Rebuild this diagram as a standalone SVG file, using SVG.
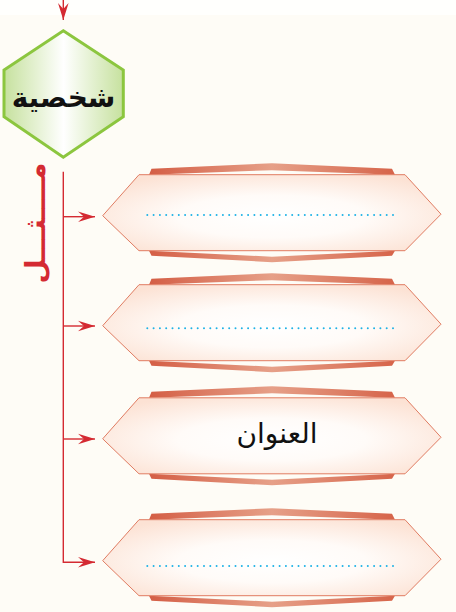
<svg xmlns="http://www.w3.org/2000/svg" width="456" height="612" viewBox="0 0 456 612">
<defs>
<style>
.box{stroke:#e07c62;stroke-width:1;fill:url(#boxFill)}
.band{fill:url(#bandFill)}
.dots{stroke:#1eb2e6;stroke-width:2;stroke-linecap:round;stroke-dasharray:0 6.3;fill:none}
.conn{stroke:#d42a32;stroke-width:1.4;fill:none}
.lbl{font-family:"DejaVu Sans",sans-serif;fill:#111111;text-anchor:middle}
</style>
<radialGradient id="boxFill" cx="0.5" cy="0.55" r="0.62">
<stop offset="0" stop-color="#ffffff"/>
<stop offset="0.45" stop-color="#fffbf8"/>
<stop offset="1" stop-color="#fce2d4"/>
</radialGradient>
<linearGradient id="bandFill" x1="0" y1="0" x2="1" y2="0">
<stop offset="0" stop-color="#d45e45"/>
<stop offset="0.5" stop-color="#e6a088"/>
<stop offset="1" stop-color="#d6644a"/>
</linearGradient>
<linearGradient id="hexFill" x1="0" y1="0" x2="1" y2="0">
<stop offset="0" stop-color="#c6e19e"/>
<stop offset="0.5" stop-color="#ffffff"/>
<stop offset="1" stop-color="#c6e19e"/>
</linearGradient>
<marker id="arr" markerUnits="userSpaceOnUse" markerWidth="20" markerHeight="12" viewBox="-18 -6 20 12" refX="0" refY="0" orient="auto">
<path d="M0,0 L-17,-5.3 L-11,0 L-17,5.3 Z" fill="#d42a32"/>
</marker>
<g id="boxShape">
<polygon class="band" points="151.5,-44 272,-49.5 392,-44 395,-38 272,-42.5 149,-38"/>
<polygon class="band" points="149,38 272,44 395,38 392,43 272,49.5 151.5,43"/>
<polygon class="box" points="102.7,3 139,-38 405,-38 441,1.5 405,38 139,38"/>
</g>
</defs>
<rect width="456" height="612" fill="#fefcf6"/>
<rect width="456" height="15" fill="#fffffd"/>

<g id="connectors">
<path class="conn" d="M63.3,0 V20" marker-end="url(#arr)"/>
<path class="conn" d="M63.3,171.7 V562.3 H95" marker-end="url(#arr)"/>
<path class="conn" d="M63.3,216.7 H95" marker-end="url(#arr)"/>
<path class="conn" d="M63.3,326 H95" marker-end="url(#arr)"/>
<path class="conn" d="M63.3,439 H95" marker-end="url(#arr)"/>
</g>

<g id="node-main">
<polygon points="63.3,30.7 123.3,70 123.3,116.7 63.3,157.3 4,116.7 4,70" fill="url(#hexFill)" stroke="#8cc63f" stroke-width="3"/>
<text class="lbl" x="63.5" y="107" font-size="28" font-weight="bold">شخصية</text>
</g>

<g id="label-mathal">
<text x="0" y="0" transform="translate(45 223) rotate(-90)" font-family="DejaVu Sans,sans-serif" font-size="28" font-weight="bold" fill="#d42a32" text-anchor="middle">مــــثـــل</text>
</g>

<g id="box1">
<use href="#boxShape" transform="translate(0 212.7)"/>
<line class="dots" x1="147.3" y1="215" x2="398.5" y2="215"/>
</g>
<g id="box2">
<use href="#boxShape" transform="translate(0 322.7)"/>
<line class="dots" x1="147.3" y1="328.3" x2="398.5" y2="328.3"/>
</g>
<g id="box3">
<use href="#boxShape" transform="translate(0 435.8)"/>
<text class="lbl" x="277" y="443" font-size="28">العنوان</text>
</g>
<g id="box4">
<use href="#boxShape" transform="translate(0 557.7)"/>
<line class="dots" x1="147.3" y1="566" x2="398.5" y2="566"/>
</g>
</svg>
